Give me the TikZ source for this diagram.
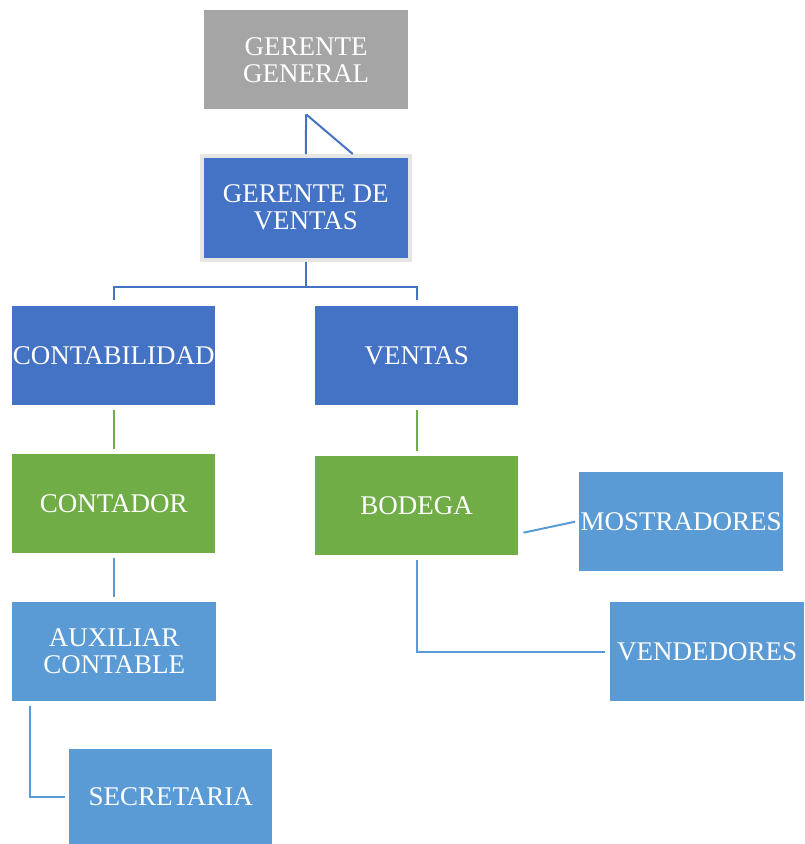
\documentclass[tikz,border=0pt]{standalone}
\usepackage{fontspec}
\setmainfont{Liberation Serif}
\definecolor{orggray}{RGB}{165,165,165}
\definecolor{orgblue}{RGB}{68,114,196}
\definecolor{orggreen}{RGB}{112,173,71}
\definecolor{orgsky}{RGB}{91,155,213}
\tikzset{
  unit/.style={anchor=north west, inner sep=0pt, text=white, align=center,
    font=\fontsize{27}{27}\selectfont},
  link/.style={line width=2pt},
}
\usetikzlibrary{calc}

\begin{document}
\begin{tikzpicture}[x=1pt, y=-1pt]
  \useasboundingbox (0,0) rectangle (804,844);

  \begin{scope}[every node/.style={unit}]
    \node [fill=orggray, minimum width=204, minimum height=99] (gg) at (204,10) {GERENTE\\GENERAL};
    \node [fill=orgblue, draw=black!10, line width=3.5pt, minimum width=208, minimum height=104] (gv) at (200,154) {GERENTE DE\\VENTAS};
    \node [fill=orgblue, minimum width=203, minimum height=99] (cont) at (12,306) {CONTABILIDAD};
    \node [fill=orgblue, minimum width=203, minimum height=99] (vtas) at (315,306) {VENTAS};
    \node [fill=orggreen, minimum width=203, minimum height=99] (ctdr) at (12,454) {CONTADOR};
    \node [fill=orggreen, minimum width=203, minimum height=99] (bod) at (315,456) {BODEGA};
    \node [fill=orgsky, minimum width=204, minimum height=99] (mos) at (579,472) {MOSTRADORES};
    \node [fill=orgsky, minimum width=194, minimum height=99] (vend) at (610,602) {VENDEDORES};
    \node [fill=orgsky, minimum width=204, minimum height=99] (aux) at (12,602) {AUXILIAR\\CONTABLE};
    \node [fill=orgsky, minimum width=203, minimum height=95] (sec) at (69,749) {SECRETARIA};
  \end{scope}

  % top of the chart
  \draw [link, orgblue, shorten <=5pt] (gg.south) -- (gv.north);
  \draw [link, orgblue] ($(gg.south)+(0,5)$) -- ($(gv.north)+(47,0)$);
  \draw [link, orgblue, shorten >=6pt] (gv.south) -- ++(0,25) -| (cont.north);
  \draw [link, orgblue, shorten >=6pt] (gv.south) -- ++(0,25) -| (vtas.north);

  \draw [link, orggreen, shorten <=5pt, shorten >=5pt] (cont.south) -- (ctdr.north);
  \draw [link, orggreen, shorten <=5pt, shorten >=5pt] (vtas.south) -- (bod.north);

  % lower units
  \draw [link, orgsky, shorten <=5pt, shorten >=5pt] (ctdr.south) -- (ctdr.south |- aux.north);
  \draw [link, orgsky, shorten >=4pt] ($(aux.south west)+(18,5)$) |- (sec.west);
  \draw [link, orgsky] ($(bod.east)+(5,27)$) -- ($(mos.west)+(-4,0)$);
  \draw [link, orgsky, shorten <=5pt, shorten >=5pt] (bod.south) |- (vend.west);

\end{tikzpicture}
\end{document}
